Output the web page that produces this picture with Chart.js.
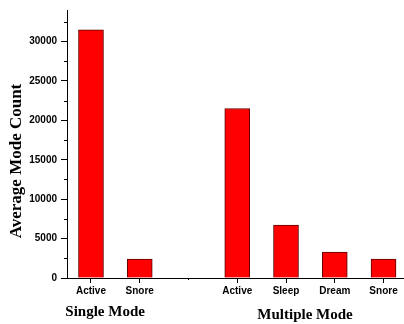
<!DOCTYPE html>
<html>
<head>
<meta charset="utf-8">
<script src="https://cdn.jsdelivr.net/npm/chart.js@4/dist/chart.umd.min.js"></script>
<style>
  html, body { margin: 0; padding: 0; background: #fff; }
  #wrap { width: 404px; height: 324px; }
</style>
</head>
<body>
<div id="wrap"><canvas id="c" width="404" height="324"></canvas></div>
<script>
// Mode counts, grouped by recording mode
const singleLabels = ['Active', 'Snore'];
const singleValues = [31500, 2400];
const multipleLabels = ['Active', 'Sleep', 'Dream', 'Snore'];
const multipleValues = [21500, 6700, 3300, 2400];
const groupTitles = ['Single Mode', 'Multiple Mode'];
const yTickValues = [0, 5000, 10000, 15000, 20000, 25000, 30000];
const yAxisTitle = 'Average Mode Count';

// Slot positions along the x axis (slot 3 is left empty as a gap between groups)
const singleSlots = [1, 2];
const multipleSlots = [4, 5, 6, 7];

const points = [];
const slotLabel = {};
singleSlots.forEach((s, i) => { points.push({ x: s, y: singleValues[i] }); slotLabel[s] = singleLabels[i]; });
multipleSlots.forEach((s, i) => { points.push({ x: s, y: multipleValues[i] }); slotLabel[s] = multipleLabels[i]; });

const decorations = {
  id: 'decorations',
  afterDraw(chart) {
    const ctx = chart.ctx;
    const x = chart.scales.x, y = chart.scales.y;
    ctx.save();
    ctx.strokeStyle = '#000';
    ctx.lineWidth = 1;
    // minor y ticks
    for (let v = 2500; v < 34000; v += 5000) {
      const py = Math.round(y.getPixelForValue(v)) + 0.5;
      ctx.beginPath();
      ctx.moveTo(x.left - 3, py);
      ctx.lineTo(x.left, py);
      ctx.stroke();
    }
    // small mark at the empty gap slot
    const gx = Math.round(x.getPixelForValue(3)) + 0.5;
    ctx.beginPath();
    ctx.moveTo(gx, y.bottom);
    ctx.lineTo(gx, y.bottom + 2);
    ctx.stroke();

    ctx.fillStyle = '#000';
    ctx.font = 'bold 15px "Liberation Serif", "Times New Roman", serif';
    ctx.textAlign = 'center';
    ctx.textBaseline = 'alphabetic';
    ctx.fillText(groupTitles[0], x.getPixelForValue(1.29), 316);
    ctx.fillText(groupTitles[1], x.getPixelForValue(5.39), 319);

    ctx.translate(21, 161);
    ctx.rotate(-Math.PI / 2);
    ctx.font = 'bold 17px "Liberation Serif", "Times New Roman", serif';
    ctx.fillText(yAxisTitle, 0, 0);
    ctx.restore();
  }
};

new Chart(document.getElementById('c'), {
  type: 'bar',
  data: {
    datasets: [{
      data: points,
      backgroundColor: '#ff0000',
      borderColor: '#5c0000',
      borderWidth: 1,
      barThickness: 25
    }]
  },
  options: {
    responsive: false,
    animation: false,
    events: [],
    layout: { padding: { top: 5, right: 0, left: 0, bottom: 0 } },
    plugins: { legend: { display: false }, tooltip: { enabled: false } },
    scales: {
      x: {
        type: 'linear',
        offset: false,
        min: 0.508,
        max: 7.42,
        afterFit(scale) { scale.height = 46; },
        afterBuildTicks(scale) {
          scale.ticks = Object.keys(slotLabel).map(k => ({ value: Number(k) }));
        },
        ticks: {
          autoSkip: false,
          maxRotation: 0,
          padding: 2,
          color: '#000',
          font: { family: '"Liberation Sans", Arial, sans-serif', size: 10, weight: 'bold' },
          callback: (v) => slotLabel[v] || ''
        },
        grid: { offset: false, drawOnChartArea: false, drawTicks: true, tickLength: 5, color: '#000' },
        border: { color: '#000', width: 1 }
      },
      y: {
        min: 0,
        max: 34000,
        afterFit(scale) { scale.width = 67; },
        afterBuildTicks(scale) {
          scale.ticks = yTickValues.map(v => ({ value: v }));
        },
        ticks: {
          padding: 4,
          color: '#000',
          font: { family: '"Liberation Sans", Arial, sans-serif', size: 10, weight: 'bold' },
          callback: (v) => String(v)
        },
        grid: { drawOnChartArea: false, drawTicks: true, tickLength: 6, color: '#000' },
        border: { color: '#000', width: 1 }
      }
    }
  },
  plugins: [decorations]
});
</script>
</body>
</html>
